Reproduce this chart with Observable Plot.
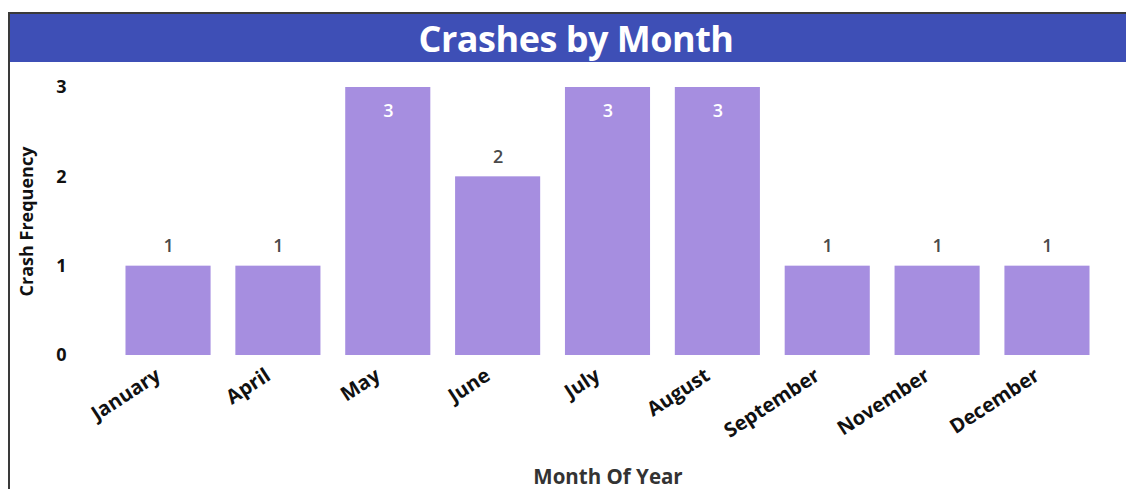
<!DOCTYPE html>
<html>
<head>
<meta charset="utf-8">
<script src="https://cdn.jsdelivr.net/npm/d3@7"></script>
<script src="https://cdn.jsdelivr.net/npm/@observablehq/plot@0.6"></script>
<style>
  html, body { margin: 0; padding: 0; background: #fff; width: 1126px; height: 489px; overflow: hidden; }
  body { position: relative; font-family: "Open Sans", sans-serif; }
  #topline { position: absolute; left: 8px; top: 12px; width: 1134px; height: 2px; background: #3a3a3a; }
  #leftline { position: absolute; left: 8px; top: 12px; width: 2px; height: 477px; background: #3a3a3a; }
  #title { position: absolute; left: 10px; top: 14px; width: 1132px; height: 48px; background: #3e4fb6;
           color: #fff; font-weight: 700; font-size: 36px; line-height: 50px; text-align: center; letter-spacing: -0.5px; }
  #chart { position: absolute; left: 0; top: 62px; }
</style>
</head>
<body>
<div id="topline"></div>
<div id="title">Crashes by Month</div>
<div id="chart"></div>
<div id="leftline"></div>
<script>
const months = ["January", "April", "May", "June", "July", "August", "September", "November", "December"];
const crashes = [1, 1, 3, 2, 3, 3, 1, 1, 1];
const yTicks = [0, 1, 2, 3];

const maxVal = d3.max(crashes);
const data = months.map((m, i) => ({month: m, value: crashes[i], inside: crashes[i] === maxVal}));

const chart = Plot.plot({
  width: 1126,
  height: 427,
  marginLeft: 120,
  marginRight: 31,
  marginTop: 25,
  marginBottom: 134,
  style: {fontFamily: "Open Sans, sans-serif", background: "transparent", overflow: "visible"},
  x: {domain: months, paddingInner: 0.2255, paddingOuter: 0.05, round: false, label: null},
  y: {domain: [0, 3], label: null},
  marks: [
    Plot.barY(data, {x: "month", y: "value", fill: "#a68ee0"}),
    Plot.text(data.filter(d => !d.inside), {x: "month", y: "value", text: d => String(d.value), dy: -20,
      fill: "#4a4a4a", fontSize: 18, fontWeight: 600}),
    Plot.text(data.filter(d => d.inside), {x: "month", y: "value", text: d => String(d.value), dy: 24,
      fill: "#fff", fontSize: 18, fontWeight: 600}),
    Plot.axisY({ticks: yTicks, tickFormat: d3.format("d"), tickSize: 0, tickPadding: 54, fontSize: 18, fontWeight: 700, fill: "#111",
      label: "Crash Frequency", labelAnchor: "center", labelArrow: "none", labelOffset: 100, labelFontSize: 20}),
    Plot.axisX({tickSize: 0, tickPadding: 18, tickRotate: -33, dx: -10, fontSize: 20, fontWeight: 700, fill: "#111",
      label: null}),
    Plot.axisX({ticks: [], tickSize: 0, label: "Month Of Year", labelAnchor: "center", labelArrow: "none",
      labelOffset: 128, fontSize: 20.5, fontWeight: 700, fill: "#333"})
  ]
});
document.getElementById("chart").appendChild(chart);
</script>
</body>
</html>
